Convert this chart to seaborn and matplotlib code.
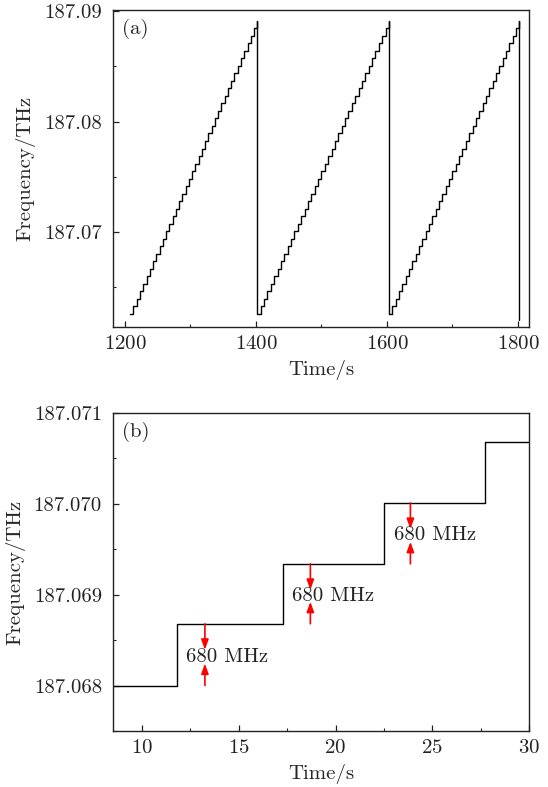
import numpy as np
import pandas as pd
import matplotlib
matplotlib.use("Agg")
import matplotlib.pyplot as plt
from matplotlib.ticker import MultipleLocator, FormatStrFormatter
import seaborn as sns

# ---------------- data ----------------
# Panel (a): three frequency sweeps made of 680 MHz steps
ramp_start_s = [1208.0, 1402.0, 1603.0]   # time of first (lowest) level
ramp_end_s = [1402.0, 1603.0, 1802.0]     # time of the reset drop
ramp_base_thz = 187.0626                  # lowest level
step_thz = 0.00068                        # 680 MHz step
n_steps = 39                              # steps per sweep
end_drop_thz = 187.0620                   # value after the last drop

# Panel (b): zoom on a few steps
b_times = [8.5, 11.8, 17.3, 22.5, 27.75, 30.0]
b_levels = [187.0680, 187.06868, 187.06934, 187.07001, 187.07068, 187.07068]
arrow_times = [13.25, 18.7, 23.87]
arrow_label_x = [12.27, 17.73, 23.04]
arrow_label = "680 MHz"

# ---------------- build tables ----------------
ta, fa = [], []
for ts, te in zip(ramp_start_s, ramp_end_s):
    dt = (te - ts) / n_steps
    for k in range(n_steps):
        ta.append(ts + k * dt)
        fa.append(ramp_base_thz + k * step_thz)
    ta.append(te)
    fa.append(ramp_base_thz + n_steps * step_thz)
ta.append(ramp_end_s[-1])
fa.append(end_drop_thz)
df_a = pd.DataFrame({"t": ta, "f": fa})
df_b = pd.DataFrame({"t": b_times, "f": b_levels})

# ---------------- style ----------------
FS = 15
sns.set_style("ticks")
plt.rcParams.update({
    "font.family": "serif",
    "font.serif": ["cmr10"],
    "mathtext.fontset": "cm",
    "axes.formatter.use_mathtext": True,
    "font.size": FS,
    "axes.linewidth": 1.0,
    "axes.edgecolor": "#222222",
    "xtick.direction": "in",
    "ytick.direction": "in",
    "xtick.major.size": 4,
    "ytick.major.size": 4,
    "xtick.minor.size": 2.2,
    "ytick.minor.size": 2.2,
    "xtick.major.width": 0.9,
    "ytick.major.width": 0.9,
    "xtick.minor.width": 0.8,
    "ytick.minor.width": 0.8,
    "xtick.color": "#222222",
    "ytick.color": "#222222",
    "xtick.labelcolor": "#222222",
    "ytick.labelcolor": "#222222",
})

fig = plt.figure(figsize=(5.48, 7.87), dpi=100)
ax1 = fig.add_axes([113 / 548, 1 - 327 / 787, (529 - 113) / 548, (327 - 10) / 787])
ax2 = fig.add_axes([113 / 548, 1 - 731 / 787, (529 - 113) / 548, (731 - 413) / 787])

# ---------------- panel (a) ----------------
sns.lineplot(data=df_a, x="t", y="f", ax=ax1, estimator=None, sort=False,
             drawstyle="steps-post", color="black", lw=1.0)
ax1.set_xlim(1181.7, 1816.8)
ax1.set_ylim(187.0614, 187.0901)
ax1.xaxis.set_major_locator(MultipleLocator(200))
ax1.xaxis.set_minor_locator(MultipleLocator(100))
ax1.yaxis.set_major_locator(MultipleLocator(0.01))
ax1.yaxis.set_minor_locator(MultipleLocator(0.005))
ax1.yaxis.set_major_formatter(FormatStrFormatter("%.2f"))
ax1.set_xlabel("Time/s", fontsize=FS, labelpad=5)
ax1.set_ylabel("Frequency/THz", fontsize=FS, labelpad=6)
ax1.text(0.022, 0.94, "(a)", transform=ax1.transAxes, ha="left", va="center", fontsize=FS)

# ---------------- panel (b) ----------------
sns.lineplot(data=df_b, x="t", y="f", ax=ax2, estimator=None, sort=False,
             drawstyle="steps-post", color="black", lw=1.0)
ax2.set_xlim(8.5, 30.0)
ax2.set_ylim(187.0675, 187.0710)
ax2.xaxis.set_major_locator(MultipleLocator(5))
ax2.xaxis.set_minor_locator(MultipleLocator(2.5))
ax2.yaxis.set_major_locator(MultipleLocator(0.001))
ax2.yaxis.set_minor_locator(MultipleLocator(0.0005))
ax2.yaxis.set_major_formatter(FormatStrFormatter("%.3f"))
ax2.set_xlabel("Time/s", fontsize=FS, labelpad=5)
ax2.set_ylabel("Frequency/THz", fontsize=FS, labelpad=6)
ax2.text(0.022, 0.94, "(b)", transform=ax2.transAxes, ha="left", va="center", fontsize=FS)

astyle = "-|>,head_length=0.6,head_width=0.22"
for i, (xa, xl) in enumerate(zip(arrow_times, arrow_label_x)):
    lo = b_levels[i]
    hi = b_levels[i + 1]
    ax2.annotate("", xy=(xa, hi - 0.000286), xytext=(xa, hi),
                 arrowprops=dict(arrowstyle=astyle, color="red", lw=1.2,
                                 shrinkA=0, shrinkB=0, mutation_scale=10))
    ax2.annotate("", xy=(xa, lo + 0.000242), xytext=(xa, lo),
                 arrowprops=dict(arrowstyle=astyle, color="red", lw=1.2,
                                 shrinkA=0, shrinkB=0, mutation_scale=10))
    ax2.text(xl, (lo + hi) / 2, arrow_label, ha="left", va="center_baseline",
             fontsize=FS, color="#222222")

for ax in (ax1, ax2):
    ax.tick_params(axis="x", which="both", pad=6, top=False)
    ax.tick_params(axis="y", which="both", pad=8, right=False)
    for s in ax.spines.values():
        s.set_visible(True)

fig.savefig("out.png", dpi=100)
